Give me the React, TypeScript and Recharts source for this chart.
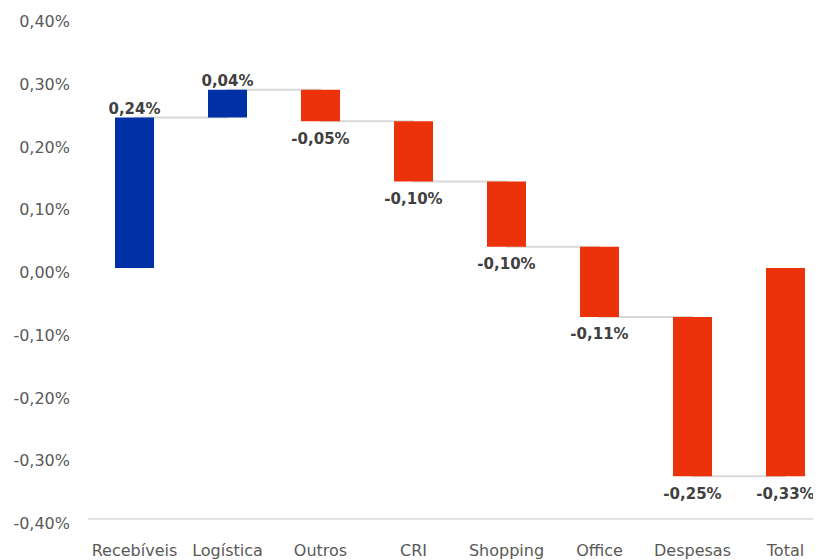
import React from 'react';
import { ComposedChart, Bar, Line, XAxis, YAxis, Cell, LabelList } from 'recharts';

const categories = ['Recebíveis', 'Logística', 'Outros', 'CRI', 'Shopping', 'Office', 'Despesas', 'Total'];
const deltas = [0.24, 0.044, -0.05, -0.096, -0.104, -0.112, -0.254];
const yTicks = [-0.4, -0.3, -0.2, -0.1, 0, 0.1, 0.2, 0.3, 0.4];

const BLUE = '#0030a6';
const RED = '#ec320a';
const FONT = 'DejaVu Sans';

type Row = { name: string; delta: number; start: number; end: number; range: [number, number] };

const data: Row[] = (() => {
  let cum = 0;
  return categories.map((name, i) => {
    if (i < deltas.length) {
      const start = cum;
      const end = cum + deltas[i];
      cum = end;
      return { name, delta: deltas[i], start, end, range: [Math.min(start, end), Math.max(start, end)] as [number, number] };
    }
    return { name, delta: cum, start: 0, end: cum, range: [Math.min(0, cum), Math.max(0, cum)] as [number, number] };
  });
})();

const fmt = (v: number) => v.toFixed(2).replace('.', ',') + '%';

const YTick = (props: any) => {
  const { x, y, payload } = props;
  return (
    <text x={x} y={y + 10} textAnchor="end" fill="#595959" fontSize={16} fontFamily={FONT}>
      {fmt(payload.value)}
    </text>
  );
};

const BarLabel = (props: any) => {
  const { x, y, width, height, index } = props;
  const row = data[index];
  if (!row) return null;
  const cx = x + width / 2;
  const top = Math.min(y, y + height);
  const bottom = Math.max(y, y + height);
  const ty = row.delta >= 0 ? top - 3.5 : bottom + 22.5;
  return (
    <text x={cx} y={ty} textAnchor="middle" fill="#404040" fontSize={15} fontWeight="bold" fontFamily={FONT}>
      {fmt(row.delta)}
    </text>
  );
};

export default function App() {
  return (
    <div style={{ width: 813, height: 552, overflow: 'hidden' }}>
      <ComposedChart
        width={824}
        height={552}
        data={data}
        margin={{ top: 9, right: 0, bottom: 0, left: 0 }}
        barCategoryGap={0}
        style={{ fontFamily: FONT }}
      >
        <XAxis
          dataKey="name"
          interval={0}
          height={41}
          tickLine={false}
          tickSize={0}
          tickMargin={26}
          axisLine={{ stroke: '#d9d9d9', strokeWidth: 1.5 }}
          tick={{ fill: '#595959', fontSize: 16, fontFamily: FONT }}
        />
        <YAxis
          width={80}
          domain={[-0.4, 0.4]}
          ticks={yTicks}
          axisLine={false}
          tickLine={false}
          tickSize={0}
          tickMargin={18}
          tick={<YTick />}
          allowDataOverflow
        />
        <Line
          dataKey="end"
          type="stepAfter"
          stroke="#d9d9d9"
          strokeWidth={2}
          dot={false}
          activeDot={false}
          isAnimationActive={false}
          zIndex={250}
        />
        <Bar dataKey="range" barSize={39} isAnimationActive={false}>
          {data.map((r, i) => (
            <Cell key={i} fill={r.delta >= 0 ? BLUE : RED} />
          ))}
          <LabelList dataKey="range" content={<BarLabel />} />
        </Bar>
      </ComposedChart>
    </div>
  );
}
